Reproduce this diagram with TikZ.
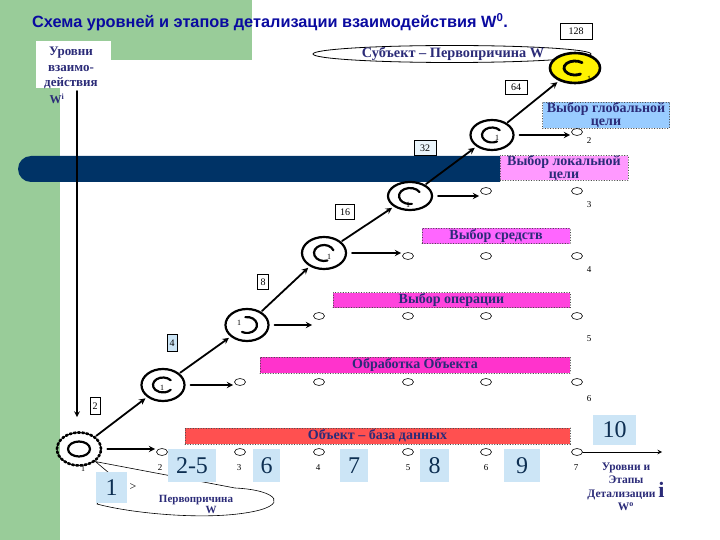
\documentclass[tikz,border=0pt]{standalone}
\usepackage{fontspec}
\setmainfont{Liberation Serif}
\newfontfamily\headfont{Liberation Sans}
\usetikzlibrary{shapes.geometric}
\definecolor{bggreen}{HTML}{99CC99}
\definecolor{barnavy}{HTML}{003366}
\definecolor{titleblue}{HTML}{0A0AA0}
\definecolor{labelnavy}{HTML}{2B2B78}
\definecolor{globalblue}{HTML}{99CCFF}
\definecolor{localpink}{HTML}{FF99FF}
\definecolor{meanspink}{HTML}{FF66FF}
\definecolor{oppink}{HTML}{FF44DD}
\definecolor{objpink}{HTML}{FF33CC}
\definecolor{dbred}{HTML}{FF5050}
\definecolor{numblue}{HTML}{CCE5F6}
\definecolor{numtext}{HTML}{0D2F52}
\tikzset{
  stagebar/.style={draw=black!70, dotted, line width=0.6pt, inner sep=0pt,
    text=labelnavy, font=\bfseries\fontsize{14}{12.5}\selectfont},
  coil/.style={ellipse, draw, line width=2.2pt, inner sep=0pt,
    minimum width=43pt, minimum height=32pt},
  coilarc/.style={line width=2.2pt},
  coilnum/.style={inner sep=0pt, font=\fontsize{8}{8}\selectfont},
  stagept/.style={ellipse, draw, line width=0.6pt, inner sep=0pt,
    minimum width=11pt, minimum height=7pt},
  lvlbox/.style={draw, line width=0.6pt, fill=white, inner sep=0pt,
    minimum height=15pt, font=\fontsize{10}{10}\selectfont},
  bignum/.style={fill=numblue, text=numtext, inner sep=0pt,
    minimum height=33pt, font=\fontsize{24}{24}\selectfont},
  climb/.style={->, line width=1.8pt, shorten <=1pt, shorten >=2pt},
  stepline/.style={->, line width=1.8pt, shorten <=5pt, shorten >=1pt},
  smallnum/.style={inner sep=0pt, font=\fontsize{9}{9}\selectfont}
}

\begin{document}
\begin{tikzpicture}[x=1pt, y=1pt, >=stealth, line cap=round]
  \useasboundingbox (0,0) rectangle (720,-540);
  % background of the slide
  \fill[bggreen] (0,0) rectangle (60,-540);
  \fill[bggreen] (0,0) rectangle (252,-60);
  \fill[white] (36,-41) rectangle (111,-88);
  \fill[barnavy]
    (500,-156) -- (31,-156)
    arc[start angle=90, end angle=270, radius=13]
    -- (500,-182) -- cycle;

  \node[anchor=base west, inner sep=0pt, text=titleblue,
    font=\headfont\bfseries\fontsize{16.3}{16}\selectfont]
    (title) at (32,-28)
    {Схема уровней и этапов детализации взаимодействия W\textsuperscript{0}.};
  \node[align=center, text=labelnavy,
    font=\bfseries\fontsize{13}{15.5}\selectfont]
    (levels) at (71,-68) {Уровни\\взаимо-\\действия};
  \node[text=labelnavy, font=\bfseries\fontsize{12}{12}\selectfont]
    (wi) at (57,-99) {W\textsuperscript{i}};

  % stage bars
  \node[stagebar, fill=globalblue, minimum width=127pt, minimum height=26pt,
    align=center] (glob) at (606,-115) {Выбор глобальной\\цели};
  \node[stagebar, fill=localpink, minimum width=128pt, minimum height=23pt,
    align=center] (loc) at (564,-168) {Выбор локальной\\цели};
  \node[stagebar, fill=meanspink, minimum width=148pt, minimum height=15pt]
    (means) at (496,-236) {Выбор средств};
  \node[stagebar, fill=oppink, minimum width=237pt, minimum height=15pt]
    (oper) at (451.5,-300) {Выбор операции};
  \node[stagebar, fill=objpink, minimum width=310pt, minimum height=16pt]
    (proc) at (415,-365) {Обработка Объекта};
  \node[stagebar, fill=dbred, minimum width=385pt, minimum height=16pt]
    (db) at (377.5,-436) {Объект – база данных};

  % subject callout
  \draw[line width=0.8pt] (452,-54) ellipse [x radius=139, y radius=8.5];
  \node[text=labelnavy, font=\bfseries\fontsize{14.3}{14}\selectfont]
    (subj) at (453,-54) {Субъект – Первопричина W};

  % levels of interaction
  \node[coil, dash pattern=on 2pt off 2.2pt, line width=2.6pt,
    minimum width=44pt, minimum height=33pt] (L1) at (79,-449) {};
  \draw[coilarc] (L1.center) ellipse [x radius=11, y radius=7.5];
  \node[coil] (L2) at (163,-385) {};
  \draw[coilarc] ([shift={(40:10pt and 7.5pt)}]L2.center)
    arc[start angle=40, end angle=320, x radius=10, y radius=7.5];
  \node[coil] (L3) at (247,-325) {};
  \draw[coilarc] ([shift={(100:10pt and 8pt)}]L3.center)
    arc[start angle=100, end angle=-120, x radius=10, y radius=8];
  \node[coil, minimum width=44pt] (L4) at (324,-253) {};
  \draw[coilarc] ([shift={(20:10pt and 8pt)}]L4.center)
    arc[start angle=20, end angle=290, x radius=10, y radius=8];
  \node[coil, minimum width=44pt, minimum height=28pt] (L5) at (410,-196) {};
  \draw[coilarc] ([shift={(30:11pt and 8pt)}]L5.center)
    arc[start angle=30, end angle=280, x radius=11, y radius=8];
  \node[coil, minimum height=30pt] (L6) at (492,-135) {};
  \draw[coilarc] ([shift={(40:10pt and 7.5pt)}]L6.center)
    arc[start angle=40, end angle=300, x radius=10, y radius=7.5];
  \node[coil, fill=yellow, line width=2.6pt,
    minimum width=50pt, minimum height=30pt] (L7) at (575,-68) {};
  \draw[coilarc, line width=2.8pt] ([shift={(50:11pt and 7pt)}]L7.center)
    arc[start angle=50, end angle=300, x radius=11, y radius=7];

  \node[coilnum] (n1) at (83,-469) {1};
  \node[coilnum] (n2) at (162,-388) {1};
  \node[coilnum] (n3) at (239,-323) {1};
  \node[coilnum] (n4) at (329,-257) {1};
  \node[coilnum] (n5) at (408,-205) {1};
  \node[coilnum] (n6) at (497,-138) {1};
  \node[coilnum] (n7) at (589,-79) {1};

  \foreach \a/\b in {L1/L2, L2/L3, L3/L4, L4/L5, L5/L6, L6/L7}
    \draw[climb] (\a) -- (\b);

  % number of interactions on each level
  \node[lvlbox, minimum width=32pt, minimum height=16pt] (c128) at (576,-31) {128};
  \node[lvlbox, minimum width=22pt, minimum height=14pt] (c64) at (516,-87) {64};
  \node[lvlbox, minimum width=22pt, fill=numblue!40] (c32) at (425,-148) {32};
  \node[lvlbox, minimum width=19pt] (c16) at (345,-212) {16};
  \node[lvlbox, minimum width=11pt] (c8) at (263,-282) {8};
  \node[lvlbox, minimum width=10pt, minimum height=17pt, fill=numblue] (c4) at (172,-343) {4};
  \node[lvlbox, minimum width=10pt, minimum height=17pt] (c2) at (95,-406) {2};

  % stages on each level
  \foreach \x [count=\i] in {162,240,319,408,486,577}
    \node[stagept] (r7-\i) at (\x,-452) {};
  \foreach \x [count=\i] in {240,319,408,486,577}
    \node[stagept] (r6-\i) at (\x,-382) {};
  \foreach \x [count=\i] in {319,408,486,577}
    \node[stagept] (r5-\i) at (\x,-316) {};
  \foreach \x [count=\i] in {408,486,577}
    \node[stagept] (r4-\i) at (\x,-256) {};
  \foreach \x [count=\i] in {486,577}
    \node[stagept] (r3-\i) at (\x,-191) {};
  \node[stagept] (r2-1) at (577,-132) {};

  \draw[stepline] (L1.east) -- (L1.east -| r7-1.west);
  \draw[stepline] (L2.east) -- (L2.east -| r6-1.west);
  \draw[stepline] (L3.east) -- (L3.east -| r5-1.west);
  \draw[stepline] (L4.east) -- (L4.east -| r4-1.west);
  \draw[stepline] (L5.east) -- (L5.east -| r3-1.west);
  \draw[stepline] (L6.east) -- (L6.east -| r2-1.west);

  \foreach \x/\n in {160/2,239/3,318/4,408/5,486/6,576/7}
    \node[smallnum] (s\n) at (\x,-468) {\n};
  \node[smallnum] (t6) at (589,-399) {6};
  \node[smallnum] (t5) at (589,-339) {5};
  \node[smallnum] (t4) at (589,-270) {4};
  \node[smallnum] (t3) at (589,-205) {3};
  \node[smallnum] (t2) at (589,-141) {2};

  % axes
  \coordinate (axtop) at (77,-91);
  \draw[->, line width=1.6pt, shorten >=14pt] (axtop) -- (axtop |- L1.north);
  \coordinate (iend) at (662,-452);
  \draw[->, line width=1pt] (r7-6) -- (iend);

  % first cause callout
  \draw[line width=0.6pt, fill=white]
    (L1.south east) -- (235,-488)
    .. controls (278,-490) and (292,-506) .. (245,-513)
    .. controls (200,-520) and (130,-513) .. (97,-504)
    -- (115,-478) -- cycle;
  \node[text=labelnavy, align=center, font=\bfseries\fontsize{11}{11}\selectfont]
    (cause) at (196,-504) {Первопричина\\\hspace*{30pt}W};

  % stage numbers
  \node[bignum, minimum width=31pt, minimum height=31pt] (b1) at (111.5,-487.5) {1};
  \node[font=\fontsize{12}{12}\selectfont] (gt) at (133,-487) {>};
  \node[bignum, minimum width=48pt] (b2) at (192,-465.5) {2-5};
  \node[bignum, minimum width=27pt] (b6) at (266.5,-465.5) {6};
  \node[bignum, minimum width=28pt] (b7) at (354,-465.5) {7};
  \node[bignum, minimum width=29pt] (b8) at (434.5,-465.5) {8};
  \node[bignum, minimum width=36pt] (b9) at (522,-465.5) {9};
  \node[bignum, minimum width=43pt, minimum height=30pt] (b10) at (614.5,-430) {10};

  \node[text=labelnavy, align=center, font=\bfseries\fontsize{11.5}{13.5}\selectfont]
    (stages) at (626,-487)
    {Уровни и\\Этапы\\Детализации \smash{{\fontsize{22}{22}\selectfont i}}\\W\textsuperscript{o}};
\end{tikzpicture}
\end{document}
